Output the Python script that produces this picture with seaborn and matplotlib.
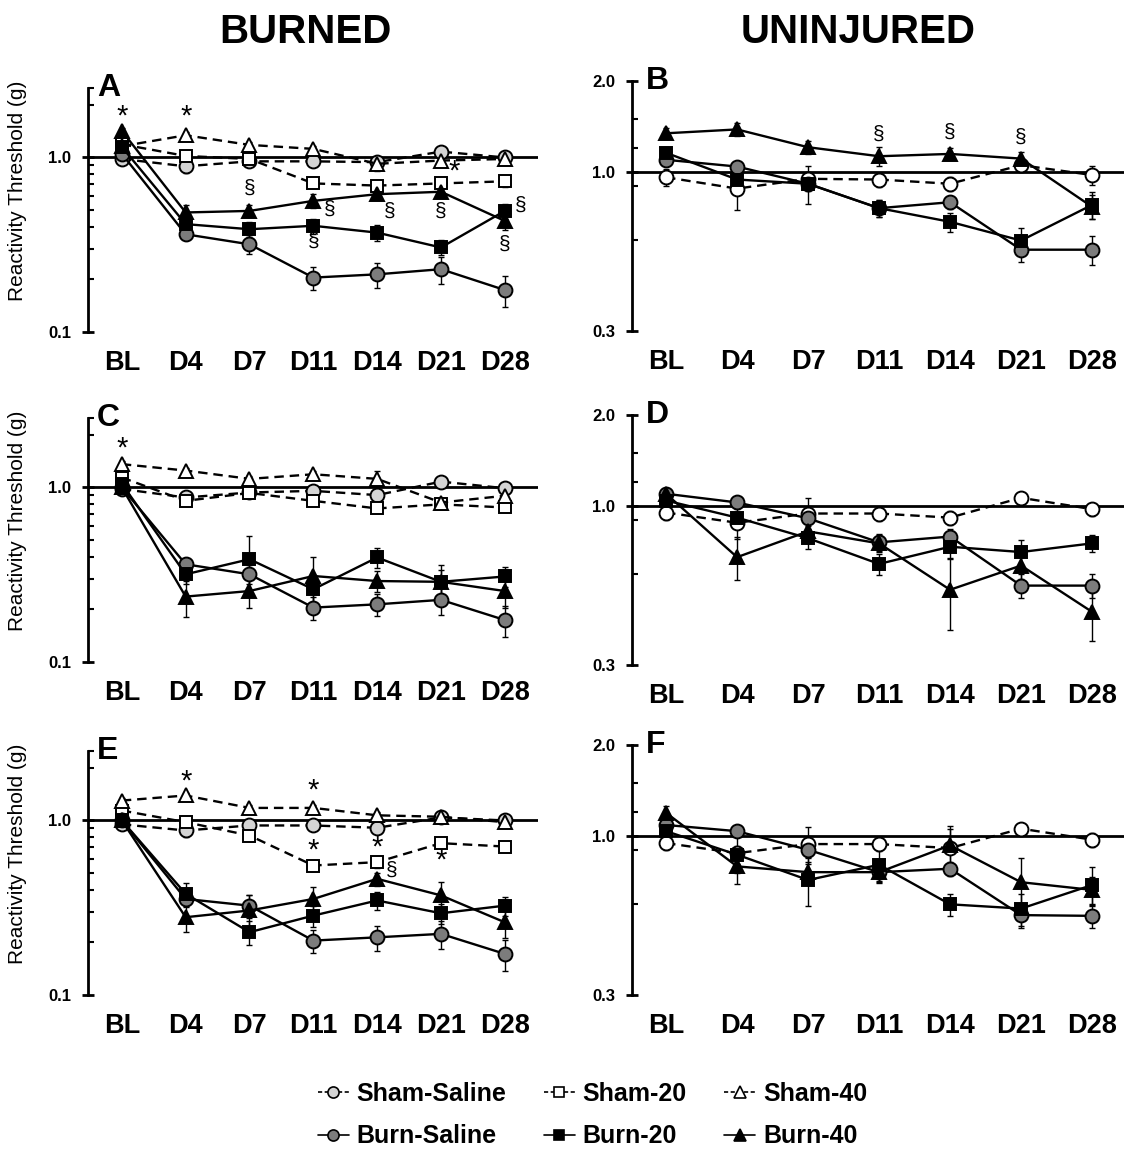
import matplotlib
matplotlib.use("Agg")
import matplotlib.pyplot as plt
from matplotlib.lines import Line2D
from matplotlib.ticker import FixedLocator, FixedFormatter, NullFormatter
import numpy as np
import pandas as pd
import seaborn as sns

sns.set_style("white")
plt.rcParams["font.family"] = ["Liberation Sans", "DejaVu Sans"]
for key in ["text.color", "axes.labelcolor", "xtick.color", "ytick.color"]:
    plt.rcParams[key] = "black"

days = ["BL", "D4", "D7", "D11", "D14", "D21", "D28"]

# ---- Burned paw, panel A ----
A_sham_saline = [0.98, 0.89, 0.95, 0.95, 0.94, 1.08, 1.00]
A_sham_saline_sem = [0.04, 0.08, 0.06, 0.05, 0.05, 0.04, 0.04]
A_sham_20 = [1.19, 1.02, 0.98, 0.71, 0.69, 0.71, 0.73]
A_sham_20_sem = [0.05, 0.06, 0.05, 0.04, 0.04, 0.04, 0.05]
A_sham_40 = [1.16, 1.34, 1.18, 1.12, 0.92, 0.96, 0.98]
A_sham_40_sem = [0.05, 0.06, 0.05, 0.05, 0.08, 0.04, 0.04]
A_burn_saline = [1.05, 0.363, 0.318, 0.205, 0.214, 0.229, 0.174]
A_burn_saline_sem = [0.05, 0.025, 0.04, 0.03, 0.035, 0.04, 0.035]
A_burn_20 = [1.15, 0.415, 0.388, 0.406, 0.371, 0.305, 0.494]
A_burn_20_sem = [0.05, 0.04, 0.04, 0.04, 0.04, 0.03, 0.05]
A_burn_40 = [1.42, 0.484, 0.494, 0.564, 0.616, 0.636, 0.433]
A_burn_40_sem = [0.06, 0.05, 0.04, 0.05, 0.04, 0.04, 0.05]
A_marks = [("*", 0, 1.72), ("*", 1, 1.72), ("§", 2, 0.67), ("§", 3.25, 0.505),
           ("§", 3, 0.33), ("§", 4.2, 0.49), ("§", 5, 0.49), ("*", 5.2, 0.83),
           ("§", 6.25, 0.53), ("§", 6, 0.32)]

# ---- Burned paw, panel C ----
C_sham_saline = [0.98, 0.876, 0.936, 0.956, 0.904, 1.08, 0.99]
C_sham_saline_sem = [0.04, 0.07, 0.06, 0.05, 0.05, 0.04, 0.04]
C_sham_20 = [1.14, 0.838, 0.93, 0.838, 0.758, 0.80, 0.768]
C_sham_20_sem = [0.05, 0.06, 0.05, 0.04, 0.04, 0.04, 0.04]
C_sham_40 = [1.36, 1.25, 1.12, 1.19, 1.12, 0.82, 0.896]
C_sham_40_sem = [0.06, 0.05, 0.05, 0.05, 0.12, 0.05, 0.04]
C_burn_saline = [1.00, 0.363, 0.318, 0.205, 0.214, 0.227, 0.174]
C_burn_saline_sem = [0.05, 0.03, 0.04, 0.03, 0.03, 0.04, 0.035]
C_burn_20 = [1.05, 0.318, 0.388, 0.261, 0.397, 0.288, 0.309]
C_burn_20_sem = [0.05, 0.04, 0.14, 0.04, 0.05, 0.07, 0.04]
C_burn_40 = [1.00, 0.237, 0.255, 0.311, 0.291, 0.288, 0.255]
C_burn_40_sem = [0.05, 0.055, 0.05, 0.09, 0.04, 0.05, 0.05]
C_marks = [("*", 0, 1.66)]

# ---- Burned paw, panel E ----
E_sham_saline = [0.95, 0.876, 0.936, 0.936, 0.908, 1.04, 1.00]
E_sham_saline_sem = [0.04, 0.07, 0.05, 0.05, 0.05, 0.04, 0.04]
E_sham_20 = [1.14, 0.978, 0.82, 0.552, 0.577, 0.741, 0.709]
E_sham_20_sem = [0.05, 0.05, 0.06, 0.04, 0.04, 0.04, 0.04]
E_sham_40 = [1.30, 1.39, 1.18, 1.18, 1.07, 1.05, 0.978]
E_sham_40_sem = [0.05, 0.05, 0.05, 0.05, 0.05, 0.05, 0.04]
E_burn_saline = [1.00, 0.355, 0.325, 0.205, 0.214, 0.224, 0.172]
E_burn_saline_sem = [0.05, 0.03, 0.05, 0.03, 0.035, 0.04, 0.035]
E_burn_20 = [1.00, 0.38, 0.229, 0.285, 0.348, 0.294, 0.325]
E_burn_20_sem = [0.05, 0.06, 0.035, 0.04, 0.04, 0.04, 0.04]
E_burn_40 = [1.00, 0.279, 0.305, 0.355, 0.463, 0.372, 0.261]
E_burn_40_sem = [0.05, 0.05, 0.07, 0.06, 0.04, 0.07, 0.05]
E_marks = [("*", 1, 1.66), ("*", 3, 1.49), ("*", 3, 0.67), ("*", 4, 0.70),
           ("§", 4.22, 0.52), ("*", 5, 0.59)]

# ---- Uninjured paw, panel B ----
B_sham_saline = [0.963, 0.884, 0.952, 0.947, 0.917, 1.056, 0.98]
B_sham_saline_sem = [0.06, 0.13, 0.05, 0.05, 0.05, 0.05, 0.07]
B_burn_saline = [1.10, 1.045, 0.917, 0.762, 0.797, 0.556, 0.556]
B_burn_saline_sem = [0.05, 0.04, 0.05, 0.05, 0.04, 0.05, 0.06]
B_burn_20 = [1.16, 0.947, 0.917, 0.762, 0.687, 0.596, 0.781]
B_burn_20_sem = [0.05, 0.05, 0.13, 0.05, 0.05, 0.06, 0.08]
B_burn_40 = [1.345, 1.385, 1.21, 1.13, 1.15, 1.11, 0.77]
B_burn_40_sem = [0.06, 0.07, 0.06, 0.08, 0.05, 0.06, 0.07]
B_marks = [("§", 3, 1.34), ("§", 4, 1.36), ("§", 5, 1.31)]

# ---- Uninjured paw, panel D ----
D_sham_saline = [0.954, 0.883, 0.947, 0.947, 0.918, 1.067, 0.979]
D_sham_saline_sem = [0.05, 0.10, 0.12, 0.05, 0.05, 0.05, 0.05]
D_burn_saline = [1.10, 1.03, 0.913, 0.761, 0.795, 0.548, 0.548]
D_burn_saline_sem = [0.05, 0.04, 0.05, 0.05, 0.05, 0.05, 0.05]
D_burn_20 = [1.045, 0.918, 0.785, 0.646, 0.736, 0.707, 0.755]
D_burn_20_sem = [0.05, 0.04, 0.06, 0.05, 0.06, 0.07, 0.05]
D_burn_40 = [1.10, 0.68, 0.827, 0.755, 0.531, 0.638, 0.449]
D_burn_40_sem = [0.05, 0.11, 0.05, 0.05, 0.14, 0.06, 0.09]
D_marks = []

# ---- Uninjured paw, panel F ----
F_sham_saline = [0.95, 0.88, 0.943, 0.943, 0.915, 1.06, 0.975]
F_sham_saline_sem = [0.05, 0.12, 0.13, 0.05, 0.14, 0.05, 0.05]
F_burn_saline = [1.09, 1.04, 0.903, 0.762, 0.782, 0.55, 0.547]
F_burn_saline_sem = [0.05, 0.04, 0.05, 0.05, 0.04, 0.05, 0.05]
F_burn_20 = [1.04, 0.87, 0.718, 0.806, 0.597, 0.578, 0.691]
F_burn_20_sem = [0.05, 0.06, 0.13, 0.10, 0.05, 0.07, 0.10]
F_burn_40 = [1.195, 0.796, 0.762, 0.762, 0.934, 0.706, 0.666]
F_burn_40_sem = [0.06, 0.10, 0.06, 0.06, 0.15, 0.14, 0.07]
F_marks = []

group_names = ["Sham-Saline", "Sham-20", "Sham-40", "Burn-Saline", "Burn-20", "Burn-40"]

LIGHT = "#d4d4d4"
DARK = "#7c7c7c"
DASH = (0, (4, 2.5))
styles = {
    "Sham-Saline": dict(marker="o", mfc=LIGHT, ls=DASH, ms=10),
    "Sham-20": dict(marker="s", mfc="white", ls=DASH, ms=9),
    "Sham-40": dict(marker="^", mfc="white", ls=DASH, ms=10.5),
    "Burn-Saline": dict(marker="o", mfc=DARK, ls="-", ms=10),
    "Burn-20": dict(marker="s", mfc="black", ls="-", ms=9),
    "Burn-40": dict(marker="^", mfc="black", ls="-", ms=10.5),
}
series_keys = {"Sham-Saline": "sham_saline", "Sham-20": "sham_20", "Sham-40": "sham_40",
               "Burn-Saline": "burn_saline", "Burn-20": "burn_20", "Burn-40": "burn_40"}


def series(prefix, uninjured):
    names = ["Sham-Saline", "Burn-Saline", "Burn-20", "Burn-40"] if uninjured else group_names
    g = globals()
    return [(n, g[f"{prefix}_{series_keys[n]}"], g[f"{prefix}_{series_keys[n]}_sem"])
            for n in names]


W, H = 1124, 1154
fig = plt.figure(figsize=(W / 100, H / 100), dpi=100)


def px_axes(left, top, right, bottom):
    return fig.add_axes([left / W, 1 - bottom / H, (right - left) / W, (bottom - top) / H])


panels = [
    ("A", px_axes(88, 88, 538, 332), False),
    ("B", px_axes(632, 81, 1124, 331), True),
    ("C", px_axes(88, 418, 538, 662), False),
    ("D", px_axes(632, 415, 1124, 665), True),
    ("E", px_axes(88, 751, 538, 995), False),
    ("F", px_axes(632, 745, 1124, 995), True),
]

for letter, ax, uninjured in panels:
    ax.set_yscale("log")
    data = series(letter, uninjured)
    for z, (name, vals, sem) in enumerate(data):
        st = styles[name]
        mfc = "white" if (uninjured and name == "Sham-Saline") else st["mfc"]
        df = pd.DataFrame({"day": days, "value": vals})
        ax.errorbar(range(len(days)), vals, yerr=sem, fmt="none", ecolor="black",
                    elinewidth=1.0, capsize=2.5, capthick=1.0, zorder=2)
        sns.lineplot(data=df, x=range(len(days)), y="value", ax=ax, sort=False,
                     color="black", linestyle=st["ls"], linewidth=1.7,
                     marker=st["marker"], markersize=st["ms"], markerfacecolor=mfc,
                     markeredgecolor="black", markeredgewidth=1.4, zorder=3 + z)
    ax.axhline(1.0, color="black", lw=2, zorder=2.5)
    ax.set_ylabel("")

    if uninjured:
        ax.set_ylim(0.3, 2.0)
        ax.set_xlim(-0.48, 6.45)
        ax.yaxis.set_major_locator(FixedLocator([0.3, 1.0, 2.0]))
        ax.yaxis.set_major_formatter(FixedFormatter(["0.3", "1.0", "2.0"]))
        ax.yaxis.set_minor_locator(FixedLocator([0.6, 0.9, 1.2, 1.5]))
    else:
        ax.set_ylim(0.1, 2.5)
        ax.set_xlim(-0.53, 6.52)
        ax.yaxis.set_major_locator(FixedLocator([0.1, 1.0]))
        ax.yaxis.set_major_formatter(FixedFormatter(["0.1", "1.0"]))
        ax.yaxis.set_minor_locator(FixedLocator([0.2, 0.3, 0.4, 0.5, 0.6, 0.7, 0.8, 0.9, 2.0, 2.5]))
        ax.set_ylabel("Reactivity Threshold (g)", fontsize=15, color="black")
        ax.yaxis.set_label_coords(-0.136, 0.58)
    ax.yaxis.set_minor_formatter(NullFormatter())

    ax.set_xticks(range(len(days)))
    ax.set_xticklabels(days, fontsize=19.5, fontweight="bold")
    ax.set_xlabel("")
    ax.tick_params(axis="x", length=0, pad=13)
    ax.tick_params(axis="y", which="major", direction="inout", length=8, width=2,
                   labelsize=12, pad=8, left=True)
    ax.tick_params(axis="y", which="minor", direction="in", length=4, width=1.5, left=True)
    for lab in ax.get_yticklabels():
        lab.set_fontweight("bold")

    for s in ["top", "right", "bottom"]:
        ax.spines[s].set_visible(False)
    ax.spines["left"].set_linewidth(2)
    ax.spines["left"].set_color("black")
    ax.patch.set_alpha(0)

    ax.text(0.02 if not uninjured else 0.028, 1.0, letter, transform=ax.transAxes,
            fontsize=23, fontweight="bold", va="center", ha="left")

    for sym, xpos, yval in globals()[f"{letter}_marks"]:
        if sym == "*":
            ax.text(xpos, yval, sym, fontsize=21, ha="center", va="center", zorder=10)
        else:
            ax.text(xpos, yval, sym, fontsize=15, ha="center", va="center", zorder=10)

fig.text(305 / W, 1 - 32 / H, "BURNED", fontsize=29, fontweight="bold", ha="center", va="center")
fig.text(858 / W, 1 - 32 / H, "UNINJURED", fontsize=29, fontweight="bold", ha="center", va="center")

handles = []
for name in ["Sham-Saline", "Burn-Saline", "Sham-20", "Burn-20", "Sham-40", "Burn-40"]:
    st = styles[name]
    handles.append(Line2D([], [], color="black", linestyle=(0, (2.5, 1.5)) if st["ls"] != "-" else "-",
                          linewidth=1.2, marker=st["marker"], markersize=st["ms"] * 0.8,
                          markerfacecolor=st["mfc"], markeredgecolor="black",
                          markeredgewidth=1.2, label=name))
fig.legend(handles=handles, loc="center", bbox_to_anchor=(0.527, 1 - 1115 / H), ncol=3,
           frameon=False, prop={"weight": "bold", "size": 18}, handlelength=1.25,
           handletextpad=0.3, columnspacing=1.5, labelspacing=0.75)

fig.savefig("out.png", dpi=100)
